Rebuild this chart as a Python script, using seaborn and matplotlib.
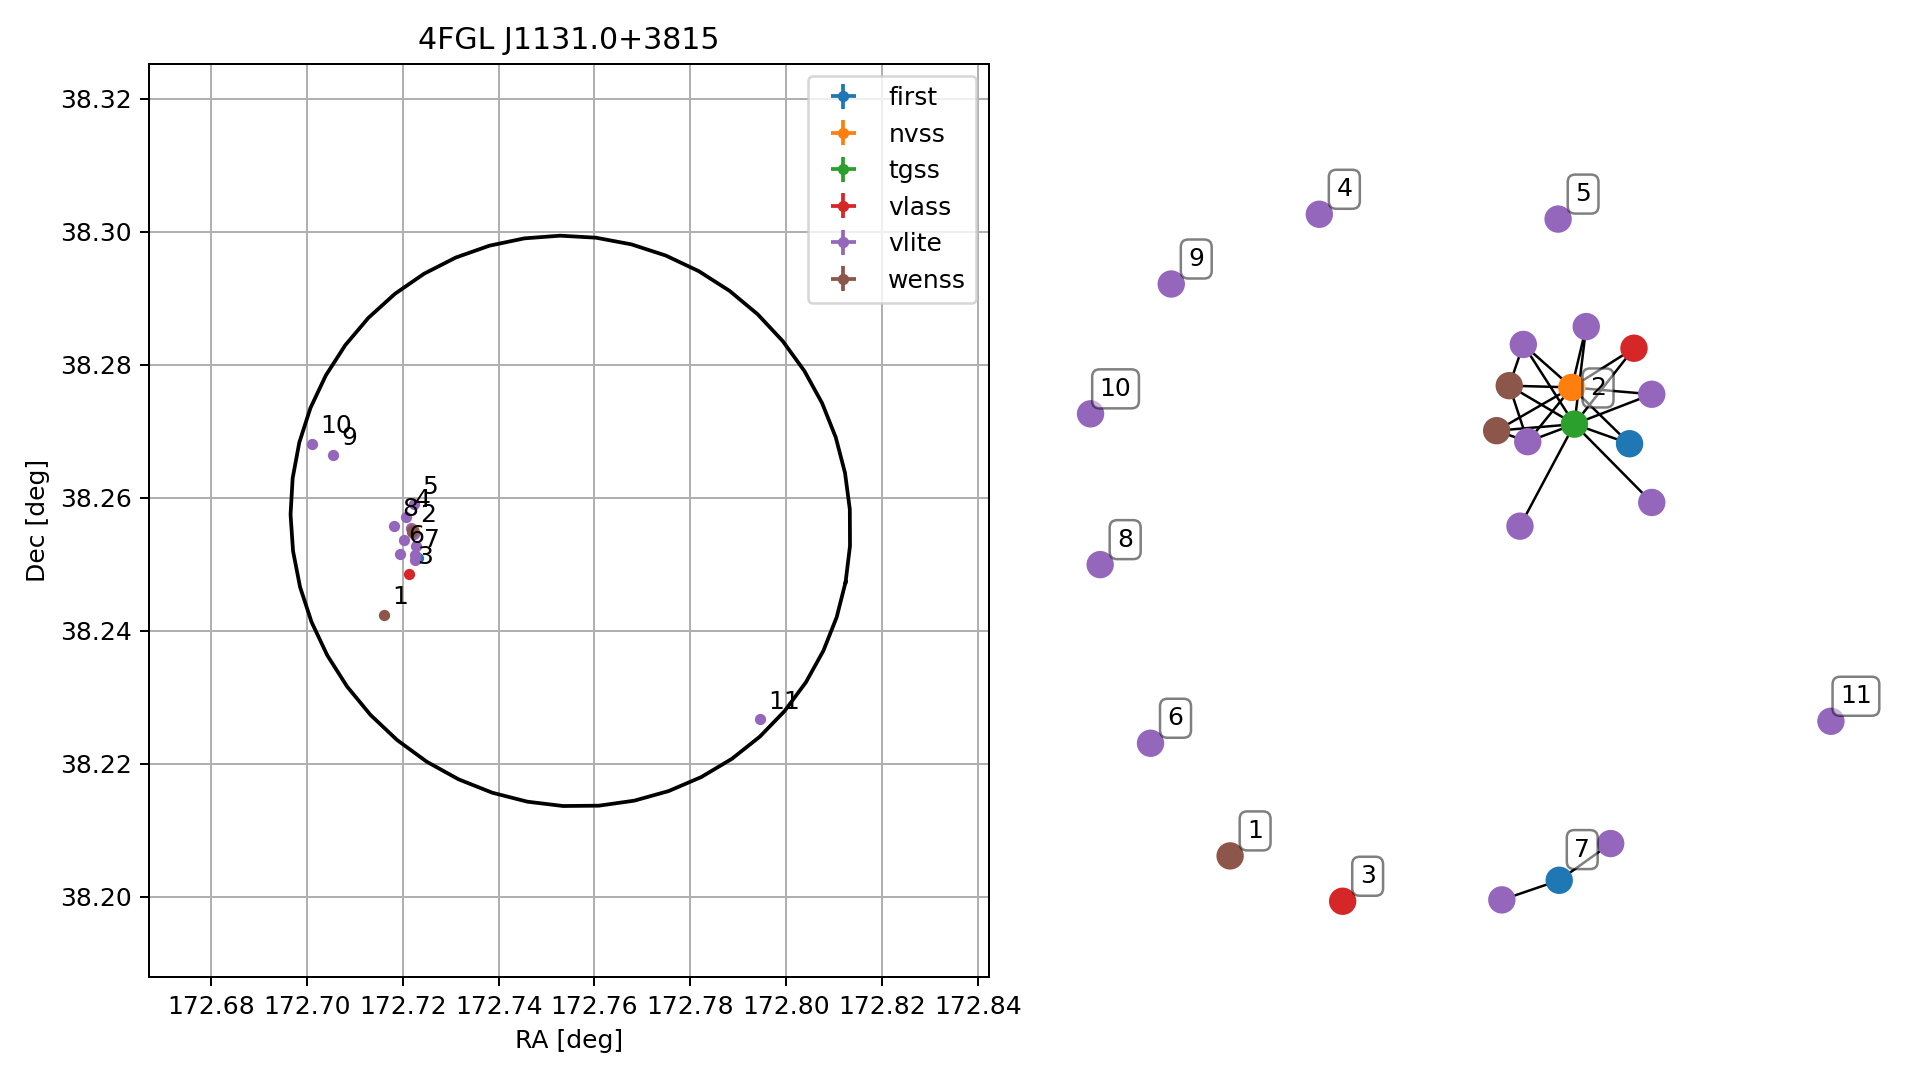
"""
Fermi 4FGL error ellipse with radio counterparts, and the
crossmatch groups drawn as a small graph next to it.
"""

import numpy as np
import pandas as pd
import seaborn as sns
import matplotlib.pyplot as plt
from matplotlib.ticker import MultipleLocator, FormatStrFormatter

title = '4FGL J1131.0+3815'
surveys = ['first', 'nvss', 'tgss', 'vlass', 'vlite', 'wenss']

# 95% ellipse of the fermi source (deg, tangent plane)
ell_ra, ell_dec = 172.7550, 38.2565
ell_a, ell_b, ell_ang = 0.0460, 0.0428, -11.5

# radio sources: group id, survey, position, error
src_group = [1, 2, 2, 2, 2, 2, 2, 2, 2, 2, 2, 2, 2, 3, 4, 5, 6, 7, 7, 7,
             8, 9, 10, 11]
src_survey = ['wenss', 'wenss', 'wenss', 'nvss', 'tgss', 'vlass', 'first',
              'vlite', 'vlite', 'vlite', 'vlite', 'vlite', 'vlite',
              'vlass', 'vlite', 'vlite', 'vlite', 'first', 'vlite', 'vlite',
              'vlite', 'vlite', 'vlite', 'vlite']
src_ra = [172.7161, 172.7220, 172.7219, 172.7222, 172.7223, 172.7221,
          172.7222, 172.7203, 172.7227, 172.7219, 172.7221, 172.7218,
          172.7224, 172.7213, 172.7207, 172.7223, 172.7194, 172.7232,
          172.7225, 172.7225, 172.7182, 172.7054, 172.7010, 172.7945]
src_dec = [38.2424, 38.2551, 38.2549, 38.2553, 38.2549, 38.2550,
           38.2551, 38.2537, 38.2528, 38.2552, 38.2548, 38.2554,
           38.2545, 38.2485, 38.2571, 38.2590, 38.2516, 38.2510,
           38.2514, 38.2507, 38.2557, 38.2664, 38.2681, 38.2267]
src_err = [0.0003] * 24

# graph layout of the same sources
node_x = [-0.623, 0.131, 0.097, 0.300, 0.307, 0.468, 0.456, 0.169, 0.339,
          0.516, 0.181, 0.516, 0.160, -0.319, -0.382, 0.263, -0.838, 0.266,
          0.405, 0.111, -0.974, -0.782, -1.0, 1.0]
node_y = [-0.868, 0.501, 0.370, 0.496, 0.389, 0.610, 0.332, 0.621, 0.673,
          0.476, 0.338, 0.161, 0.092, -1.0, 1.0, 0.986, -0.540, -0.939,
          -0.832, -0.996, -0.020, 0.797, 0.419, -0.476]
edges = [(7, 1), (7, 3), (7, 4), (8, 3), (8, 4), (5, 3), (5, 4), (1, 3),
         (1, 4), (1, 10), (3, 9), (3, 2), (3, 10), (3, 6), (9, 4), (2, 4),
         (2, 10), (4, 10), (4, 6), (4, 11), (4, 12), (17, 18), (17, 19)]

df = pd.DataFrame({'group': src_group, 'survey': src_survey, 'ra': src_ra,
                   'dec': src_dec, 'err': src_err, 'x': node_x, 'y': node_y})
pal = dict(zip(surveys, sns.color_palette('tab10', len(surveys))))

fig = plt.figure(figsize=(1919 / 180, 1080 / 180), dpi=180)

# ---- sky plot
ax = fig.add_axes([0.0778, 0.0953, 0.4375, 0.8457])
for s in surveys:
    d = df[df.survey == s]
    ax.errorbar(d.ra, d.dec, xerr=d.err, yerr=d.err, fmt='o', ms=3.5,
                color=pal[s], label=s)

t = np.linspace(0, 2 * np.pi, 50)
th = np.radians(ell_ang)
ex = ell_a * np.cos(t) * np.cos(th) - ell_b * np.sin(t) * np.sin(th)
ey = ell_a * np.cos(t) * np.sin(th) + ell_b * np.sin(t) * np.cos(th)
ax.plot(ell_ra + ex / np.cos(np.radians(ell_dec)), ell_dec + ey,
        color='k', lw=1.5)

for g, d in df.groupby('group'):
    ax.annotate(str(g), (d.ra.mean(), d.dec.mean()), xytext=(3.3, 4.2),
                textcoords='offset points', fontsize=10)

ax.set_xlim(172.6671, 172.8423)
ax.set_ylim(38.1879, 38.3253)
ax.xaxis.set_major_locator(MultipleLocator(0.02))
ax.yaxis.set_major_locator(MultipleLocator(0.02))
ax.xaxis.set_major_formatter(FormatStrFormatter('%.2f'))
ax.yaxis.set_major_formatter(FormatStrFormatter('%.2f'))
ax.grid(True)
ax.set_xlabel('RA [deg]')
ax.set_ylabel('Dec [deg]')
ax.set_title(title)
ax.legend(loc='upper right')

# ---- crossmatch graph
ax2 = fig.add_axes([0.549, 0.1178, 0.4244, 0.7315])
for i, j in edges:
    ax2.plot([node_x[i], node_x[j]], [node_y[i], node_y[j]], color='k',
             lw=1, zorder=1)
sns.scatterplot(data=df, x='x', y='y', hue='survey', palette=pal, s=120,
                linewidth=0, legend=False, ax=ax2, zorder=2)
for g, d in df.groupby('group'):
    ax2.annotate(str(g), (d.x.mean(), d.y.mean()), xytext=(10, 10),
                 textcoords='offset points', ha='center', va='center',
                 fontsize=10, zorder=3,
                 bbox=dict(boxstyle='round', fc='white', ec='black',
                           alpha=0.5))
ax2.set_xlim(-1.1, 1.1)
ax2.set_ylim(-1.15, 1.15)
ax2.set_axis_off()

plt.savefig('out.png', dpi=180)
